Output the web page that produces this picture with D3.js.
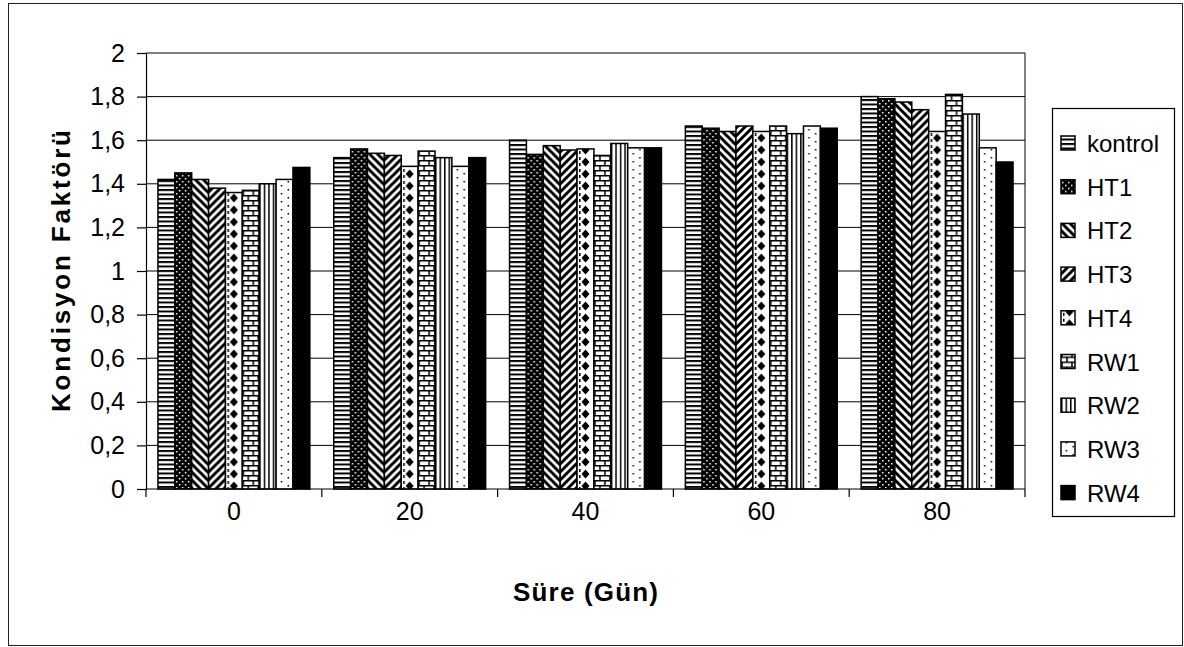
<!DOCTYPE html>
<html>
<head>
<meta charset="utf-8">
<script src="https://cdn.jsdelivr.net/npm/d3@7"></script>
<style>
  body { margin: 0; background: #fff; }
  svg text { font-family: "Liberation Sans", Arial, sans-serif; fill: #000; }
</style>
</head>
<body>
<div id="chart"></div>
<script>
// Chart data
const days = ["0", "20", "40", "60", "80"];
const seriesNames = ["kontrol", "HT1", "HT2", "HT3", "HT4", "RW1", "RW2", "RW3", "RW4"];
const kontrol = [1.42, 1.52, 1.60, 1.665, 1.80];
const ht1 = [1.45, 1.56, 1.535, 1.655, 1.79];
const ht2 = [1.42, 1.54, 1.575, 1.64, 1.775];
const ht3 = [1.38, 1.53, 1.555, 1.665, 1.74];
const ht4 = [1.36, 1.48, 1.56, 1.64, 1.64];
const rw1 = [1.37, 1.55, 1.53, 1.665, 1.81];
const rw2 = [1.40, 1.52, 1.585, 1.63, 1.72];
const rw3 = [1.42, 1.48, 1.565, 1.665, 1.565];
const rw4 = [1.475, 1.52, 1.565, 1.655, 1.50];
const yTicks = [0, 0.2, 0.4, 0.6, 0.8, 1, 1.2, 1.4, 1.6, 1.8, 2];

const allSeries = [kontrol, ht1, ht2, ht3, ht4, rw1, rw2, rw3, rw4];

const width = 1184, height = 647;
const plot = { left: 146, right: 1025, top: 53, bottom: 489 };

const svg = d3.select("#chart").append("svg")
    .attr("width", width)
    .attr("height", height);

// outer frame
svg.append("rect")
    .attr("x", 8.5).attr("y", 3.5)
    .attr("width", 1174).attr("height", 642)
    .attr("fill", "none").attr("stroke", "#222").attr("stroke-width", 1);

const x0 = d3.scaleBand()
    .domain(days)
    .range([plot.left, plot.right])
    .paddingInner(0.136)
    .paddingOuter(0.068);

const x1 = d3.scaleBand()
    .domain(seriesNames)
    .range([0, x0.bandwidth()]);

const y = d3.scaleLinear()
    .domain([0, 2])
    .range([plot.bottom, plot.top]);

const bw = x1.bandwidth();

// fill patterns, one per series
const defs = svg.append("defs");
function pat(id, w, h, bg) {
    const p = defs.append("pattern")
        .attr("id", id)
        .attr("patternUnits", "userSpaceOnUse")
        .attr("width", w).attr("height", h);
    p.append("rect").attr("width", w).attr("height", h).attr("fill", bg);
    return p;
}

// kontrol: horizontal stripes
let p = pat("p0", 10, 4.5, "#fff");
p.append("rect").attr("y", 0).attr("width", 10).attr("height", 2).attr("fill", "#000");

// HT1: black with small white dots
p = pat("p1", 6, 6, "#000");
p.append("rect").attr("x", 1).attr("y", 1).attr("width", 1.5).attr("height", 1.5).attr("fill", "#fff");
p.append("rect").attr("x", 4).attr("y", 4).attr("width", 1.5).attr("height", 1.5).attr("fill", "#fff");

// HT2: wide downward diagonal
p = pat("p2", 8, 8, "#fff");
p.append("path").attr("d", "M-2,-2 L10,10 M-2,6 L2,10 M6,-2 L10,2")
    .attr("stroke", "#000").attr("stroke-width", 3);

// HT3: wide upward diagonal
p = pat("p3", 8, 8, "#fff");
p.append("path").attr("d", "M-2,10 L10,-2 M-2,2 L2,-2 M6,10 L10,6")
    .attr("stroke", "#000").attr("stroke-width", 3);

// HT4: column of diamonds with dotted edge
p = pat("p4", bw, 12, "#fff");
p.append("path").attr("d", `M${bw / 2},1.5 L${bw / 2 + 4},6 L${bw / 2},10.5 L${bw / 2 - 4},6 Z`).attr("fill", "#000");
p.append("rect").attr("x", 2).attr("y", 1).attr("width", 1.5).attr("height", 3).attr("fill", "#000");
p.append("rect").attr("x", 2).attr("y", 7).attr("width", 1.5).attr("height", 3).attr("fill", "#000");

// RW1: bricks
p = pat("p5", 10, 10, "#fff");
p.append("path").attr("d", "M0,0.75 H10 M0,5.75 H10 M1,0 V5 M6,5 V10")
    .attr("stroke", "#000").attr("stroke-width", 1.5);

// RW2: narrow vertical lines
p = pat("p6", 4.5, 10, "#fff");
p.append("rect").attr("x", 0).attr("width", 1.5).attr("height", 10).attr("fill", "#000");

// RW3: sparse dots
p = pat("p7", bw, 8, "#fff");
p.append("rect").attr("x", bw * 0.28).attr("y", 1).attr("width", 1.5).attr("height", 1.5).attr("fill", "#000");
p.append("rect").attr("x", bw * 0.68).attr("y", 5).attr("width", 1.5).attr("height", 1.5).attr("fill", "#000");

// RW4: solid black
const fills = ["url(#p0)", "url(#p1)", "url(#p2)", "url(#p3)", "url(#p4)", "url(#p5)", "url(#p6)", "url(#p7)", "#000"];

// gridlines
svg.append("g")
    .selectAll("line")
    .data(yTicks.filter(d => d > 0))
    .join("line")
    .attr("x1", plot.left).attr("x2", plot.right)
    .attr("y1", d => y(d)).attr("y2", d => y(d))
    .attr("stroke", "#000").attr("stroke-width", 1);

// right edge of plot area
svg.append("line")
    .attr("x1", plot.right).attr("x2", plot.right)
    .attr("y1", plot.top).attr("y2", plot.bottom)
    .attr("stroke", "#000").attr("stroke-width", 1);

// bars
const groups = svg.append("g")
    .selectAll("g")
    .data(days)
    .join("g")
    .attr("transform", d => `translate(${x0(d)},0)`);

groups.selectAll("g")
    .data((d, gi) => seriesNames.map((s, si) => ({ s, si, v: allSeries[si][gi] })))
    .join("g")
    .attr("transform", d => `translate(${x1(d.s)},0)`)
    .append("rect")
    .attr("x", 0)
    .attr("y", d => y(d.v))
    .attr("width", bw)
    .attr("height", d => y(0) - y(d.v))
    .attr("fill", d => fills[d.si])
    .attr("stroke", "#000")
    .attr("stroke-width", 1.5);

// y axis
const yAxis = svg.append("g")
    .attr("transform", `translate(${plot.left},0)`)
    .call(d3.axisLeft(y).tickValues(yTicks).tickSize(9).tickPadding(12)
        .tickFormat(d => String(d).replace(".", ",")));
yAxis.selectAll("path, line").attr("stroke", "#000").attr("stroke-width", 1.2);
yAxis.selectAll("text").attr("font-size", 25).attr("font-family", "Liberation Sans, Arial, sans-serif");

// x axis
const xAxis = svg.append("g")
    .attr("transform", `translate(0,${plot.bottom})`)
    .call(d3.axisBottom(x0).tickSize(0).tickPadding(13));
xAxis.select(".domain").attr("stroke", "#000").attr("stroke-width", 1.2)
    .attr("d", `M${plot.left},0H${plot.right}`);
xAxis.selectAll("text").attr("font-size", 25).attr("font-family", "Liberation Sans, Arial, sans-serif");
// category separator ticks
const step = x0.step();
svg.append("g")
    .selectAll("line")
    .data(d3.range(days.length + 1))
    .join("line")
    .attr("x1", i => plot.left + i * step).attr("x2", i => plot.left + i * step)
    .attr("y1", plot.bottom).attr("y2", plot.bottom + 8)
    .attr("stroke", "#000").attr("stroke-width", 1.2);

// axis titles
svg.append("text")
    .attr("x", (plot.left + plot.right) / 2)
    .attr("y", 601)
    .attr("text-anchor", "middle")
    .attr("font-size", 26).attr("font-weight", "bold")
    .attr("textLength", 145).attr("lengthAdjust", "spacing")
    .text("Süre (Gün)");

svg.append("text")
    .attr("transform", `translate(70,${(plot.top + plot.bottom) / 2}) rotate(-90)`)
    .attr("text-anchor", "middle")
    .attr("font-size", 26).attr("font-weight", "bold")
    .attr("textLength", 282).attr("lengthAdjust", "spacing")
    .text("Kondisyon Faktörü");

// legend
const legend = svg.append("g");
legend.append("rect")
    .attr("x", 1052.5).attr("y", 108.5)
    .attr("width", 122).attr("height", 408)
    .attr("fill", "#fff").attr("stroke", "#000").attr("stroke-width", 1.2);

const items = legend.selectAll("g.item")
    .data(seriesNames)
    .join("g")
    .attr("class", "item")
    .attr("transform", (d, i) => `translate(1061,${143 + i * 43.7})`);

items.append("rect")
    .attr("x", 0).attr("y", -7)
    .attr("width", 14).attr("height", 14)
    .attr("fill", (d, i) => fills[i])
    .attr("stroke", "#000").attr("stroke-width", 1.5);

items.append("text")
    .attr("x", 26).attr("y", 9)
    .attr("font-size", 24)
    .text(d => d);
</script>
</body>
</html>
